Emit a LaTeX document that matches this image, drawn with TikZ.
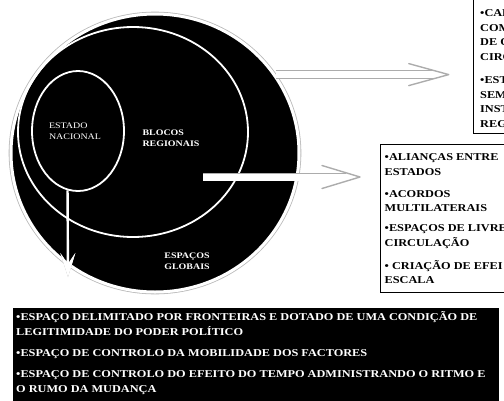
\documentclass[tikz,border=0pt]{standalone}
\usepackage{fontspec}
\setmainfont{Liberation Serif}[FakeStretch=1.17]
\usetikzlibrary{shapes.geometric,arrows.meta,calc,positioning}

\begin{document}
\begin{tikzpicture}[x=1pt,y=-1pt,
    ring/.style={ellipse,inner sep=0pt,draw=white,line width=1.8pt},
    hollow/.style={draw=gray!65,double=white,double distance=7pt,line width=0.9pt},
    barb/.style={draw=gray!65,line width=1.4pt,line cap=round,line join=round},
    natarrow/.style={draw=white,line width=2.4pt,-{Stealth[length=24pt,width=15pt,inset=11pt]}},
    inlabel/.style={text=white,align=left,inner sep=0pt,font=\fontsize{8.5}{11}\selectfont},
    frame/.style={draw,line width=0.8pt,inner sep=0pt,anchor=north west},
    boxtext/.style={align=left,inner sep=0pt,font=\fontsize{10.5}{14.5}\selectfont\bfseries}]
\useasboundingbox (0,0) rectangle (504,400);
\clip (0,0) rectangle (504,400);
% the three spaces
\node[ellipse,inner sep=0pt,minimum width=288pt,minimum height=278pt,fill=black,
      draw=white,line width=3pt,preaction={draw=gray!55,line width=4.6pt}] (glob) at (155,153) {};
\node[ring,minimum width=230pt,minimum height=210pt] (bloc) at (133,132) {};
\node[ring,minimum width=92pt,minimum height=120pt] (nac) at (78,131) {};
\node[inlabel] (nactext) at (75,131) {ESTADO\\NACIONAL};
\node[inlabel,font=\fontsize{8.5}{11}\selectfont\bfseries] (bloctext) at (171,138) {BLOCOS\\REGIONAIS};
\node[inlabel,align=center,font=\fontsize{8.5}{11}\selectfont\bfseries] (globtext) at (187,261) {ESPAÇOS\\GLOBAIS};
% arrows
\coordinate (natip) at (68,277);
\draw[natarrow,preaction={draw=gray!60,line width=0.6pt}] (nac.-100) -- (natip);
\coordinate (tipA) at ($(glob.33)+(173,0)$);
\draw[hollow] (glob.33) -- ($(tipA)+(-14,0)$);
\draw[barb] ($(tipA)+(-40,-11)$) -- (tipA) -- ($(tipA)+(-40,11)$);
\coordinate (barstart) at (203,177);
\coordinate (tipB) at (360,177);
\draw[hollow] (barstart) -- ($(tipB)+(-14,0)$);
\draw[barb] ($(tipB)+(-38,-11.5)$) -- (tipB) -- ($(tipB)+(-38,11.5)$);
% boxes
\node[frame,minimum width=100pt,minimum height=138pt] (gbox) at (473,-5) {};
\node[boxtext,below right=14.8pt and 7pt of gbox.north west] (gtext)
  {•CAP\\COM\\DE Q\\CIRC\\[8.7pt]•EST\\SEM\\INST\\REG};
\node[frame,minimum width=180pt,minimum height=148pt] (mbox) at (380,144) {};
\node[boxtext,below right=9.5pt and 4.5pt of mbox.north west] (mtext)
  {•ALIANÇAS ENTRE\\ESTADOS\\[7.5pt]•ACORDOS\\MULTILATERAIS\\[5.5pt]•ESPAÇOS DE LIVRE\\CIRCULAÇÃO\\[8.5pt]• CRIAÇÃO DE EFEI\\ESCALA};
\node[frame,draw=none,fill=black,minimum width=486pt,minimum height=100pt] (lbox) at (13,308) {};
\node[boxtext,text=white,below right=3.5pt and 3pt of lbox.north west] (ltext)
  {•ESPAÇO DELIMITADO POR FRONTEIRAS E DOTADO DE UMA CONDIÇÃO DE\\LEGITIMIDADE DO PODER POLÍTICO\\[7pt]•ESPAÇO DE CONTROLO DA MOBILIDADE DOS FACTORES\\[6.5pt]•ESPAÇO DE CONTROLO DO EFEITO DO TEMPO ADMINISTRANDO O RITMO E\\O RUMO DA MUDANÇA};
\end{tikzpicture}
\end{document}
